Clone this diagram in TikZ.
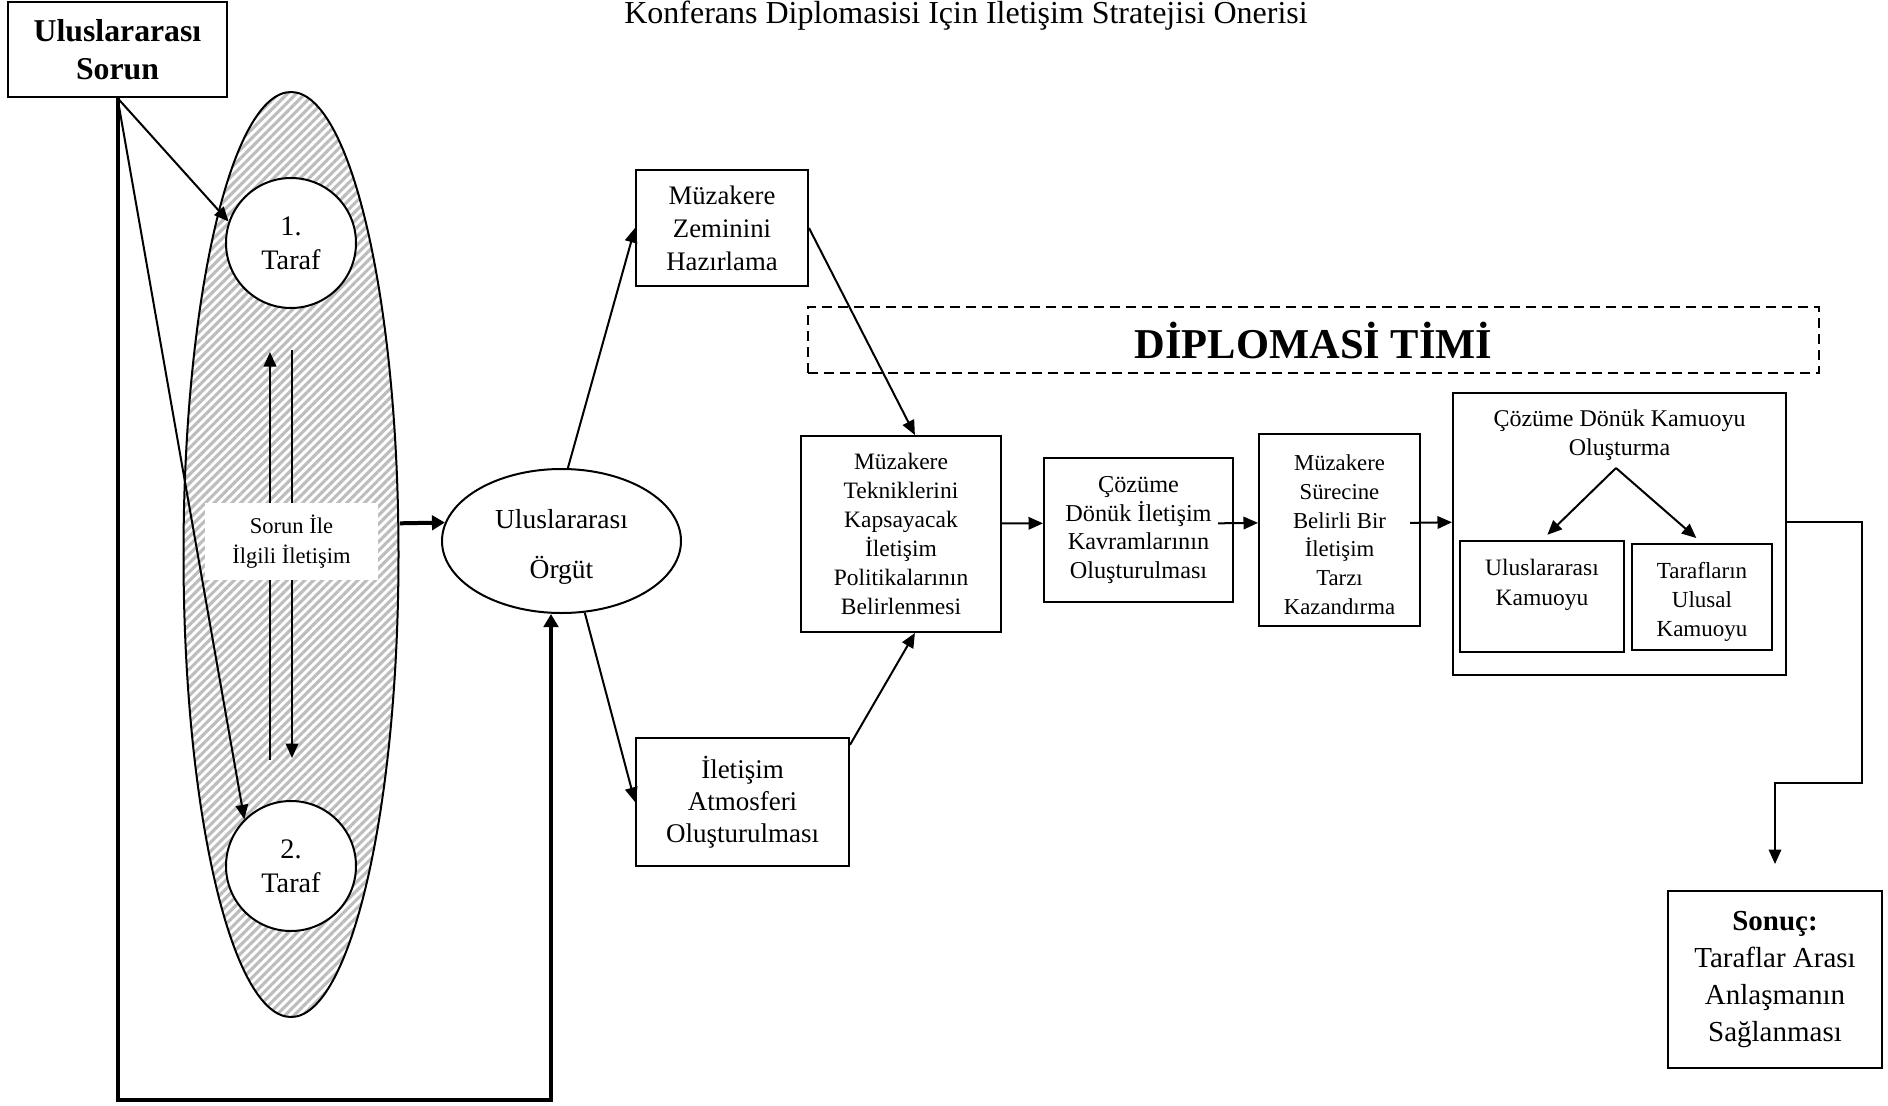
\documentclass[tikz,border=0pt]{standalone}
\usepackage{fontspec}
\setmainfont{Liberation Serif}
\usepackage{tikz}
\usetikzlibrary{arrows.meta,shapes.geometric,patterns.meta,positioning,calc}
\definecolor{colorhatch}{HTML}{BDBDBD}
\newcommand\yazi[2]{\fontsize{#1}{#2}\selectfont}
\tikzset{
  kutu/.style={draw, line width=0.8pt, align=center, inner sep=1pt},
  tarafdaire/.style={draw, circle, fill=white, line width=0.8pt, align=center, minimum size=52pt, inner sep=0pt, font=\yazi{11.3}{13.6}},
  edgeince/.style={line width=0.8pt, -{Triangle[length=5.8pt,width=5pt]}},
  edgekalin/.style={line width=1.6pt, -{Triangle[length=5.2pt,width=5.8pt]}}
}

\begin{document}
\begin{tikzpicture}[x=0.4pt, y=-0.4pt, inner sep=1pt]
\useasboundingbox (0,0) rectangle (1888,1106);
\node[font=\yazi{12.8}{15}, anchor=base] (baslik) at (966,24) {Konferans Diplomasisi İçin İletişim Stratejisi Önerisi};
\node[kutu, font=\bfseries\yazi{12.7}{15.2}, minimum width=87.6pt, minimum height=38pt] (sorun) at (117.5,49.5) {Uluslararası\\Sorun};
\node[ellipse, draw, line width=0.8pt, minimum width=86pt, minimum height=370pt, inner sep=0pt,
  pattern={Lines[angle=45,distance=2.5pt,line width=1.25pt]}, pattern color=colorhatch] (grup) at (291,554.5) {};
\node[tarafdaire] (taraf1) at (291,243) {1.\\Taraf};
\node[tarafdaire] (taraf2) at (291,866) {2.\\Taraf};
\coordinate (yukarialt) at (270,760);
\coordinate (yukariust) at (270,352);
\coordinate (asagiust) at (292,350);
\coordinate (asagialt) at (292,758);
\draw[edgeince] (yukarialt) -- (yukariust);
\draw[edgeince] (asagiust) -- (asagialt);
\node[fill=white, align=center, minimum width=69.2pt, minimum height=30.8pt, font=\yazi{9}{12}] (sorunile) at (291.5,541.5) {Sorun İle\\İlgili İletişim};
\node[ellipse, draw, line width=0.8pt, minimum width=95.6pt, minimum height=57.6pt, align=center, text height=32pt, font=\yazi{11}{20}] (orgut) at (561.5,541) {Uluslararası\\Örgüt};
\draw[edgeince] (sorun.south) -- (taraf1.161);
\draw[edgeince] (sorun.south) -- (taraf2.135);
\coordinate (donus) at (551,1100);
\draw[edgekalin] (sorun.south) |- (donus) -- (donus |- orgut.south);
\draw[edgekalin] (grup.16) -- (orgut.171);

\node[kutu, minimum width=68.8pt, minimum height=46.4pt, font=\yazi{10.7}{13.2}] (zemin) at (722,228) {Müzakere\\Zeminini\\Hazırlama};
\node[kutu, minimum width=80pt, minimum height=78.4pt, font=\yazi{9.4}{11.6}] (teknik) at (901,534) {Müzakere\\Tekniklerini\\Kapsayacak\\İletişim\\Politikalarının\\Belirlenmesi};
\node[kutu, minimum width=85.2pt, minimum height=51.2pt, font=\yazi{10.8}{12.8}] (atmosfer) at (742.5,802) {İletişim\\Atmosferi\\Oluşturulması};
\node[kutu, dash pattern={on 4pt off 2.4pt}, minimum width=404.4pt, minimum height=26.4pt, font=\bfseries\yazi{17}{20}] (timi) at (1313.5,340) {DİPLOMASİ TİMİ};
\node[kutu, minimum width=75.6pt, minimum height=57.6pt, font=\yazi{9.7}{11.4}] (cozum) at (1138.5,530) {Çözüme\\Dönük İletişim\\Kavramlarının\\Oluşturulması};
\node[kutu, minimum width=64.4pt, minimum height=76.8pt, text height=67.5pt, font=\yazi{9.1}{11.5}] (surec) at (1339.5,530) {Müzakere\\Sürecine\\Belirli Bir\\İletişim\\Tarzı\\Kazandırma};
\node[kutu, minimum width=133.2pt, minimum height=112.8pt] (kamu) at (1619.5,534) {};
\node[font=\yazi{9.6}{11.4}, align=center, below=6pt of kamu.north] (kamubaslik) {Çözüme Dönük Kamuoyu\\Oluşturma};
\node[kutu, minimum width=65.6pt, minimum height=44.4pt] (ulukamu) at (1542,596.5) {};
\node[font=\yazi{9.4}{12}, align=center, below=6.4pt of ulukamu.north] (ulukamuyazi) {Uluslararası\\Kamuoyu};
\node[kutu, minimum width=56pt, minimum height=42.4pt] (tarafkamu) at (1702,597) {};
\node[font=\yazi{9.2}{11.6}, align=center, below=6.4pt of tarafkamu.north] (tarafkamuyazi) {Tarafların\\Ulusal\\Kamuoyu};
\coordinate (tepe) at (1616,468);
\node[kutu, minimum width=85.6pt, minimum height=70.8pt, font=\yazi{11.6}{14.8}] (sonuc) at (1775,979.5) {\textbf{Sonuç:}\\Taraflar Arası\\Anlaşmanın\\Sağlanması};

\draw[edgeince] (orgut.85) -- (zemin.west);
\draw[edgeince] (zemin.east) -- (teknik.82);
\draw[edgeince] (orgut.288) -- (atmosfer.west);
\draw[edgeince] (atmosfer.28) -- (teknik.278);
\draw[edgeince] (teknik.6) -- (cozum.176);
\draw[edgeince] ([xshift=-6.4pt]cozum.4) -- (surec.175);
\draw[edgeince] ([xshift=-4.4pt]surec.5) -- (kamu.176);
\draw[edgeince, shorten >=3pt] (tepe) -- (ulukamu.north);
\draw[edgeince, shorten >=3pt] (tepe) -- (tarafkamu.north);
\coordinate (kirik) at (1862,783);
\draw[edgeince, shorten >=10.4pt] (kamu.4) -| (kirik) -| (sonuc.north);
\end{tikzpicture}
\end{document}
